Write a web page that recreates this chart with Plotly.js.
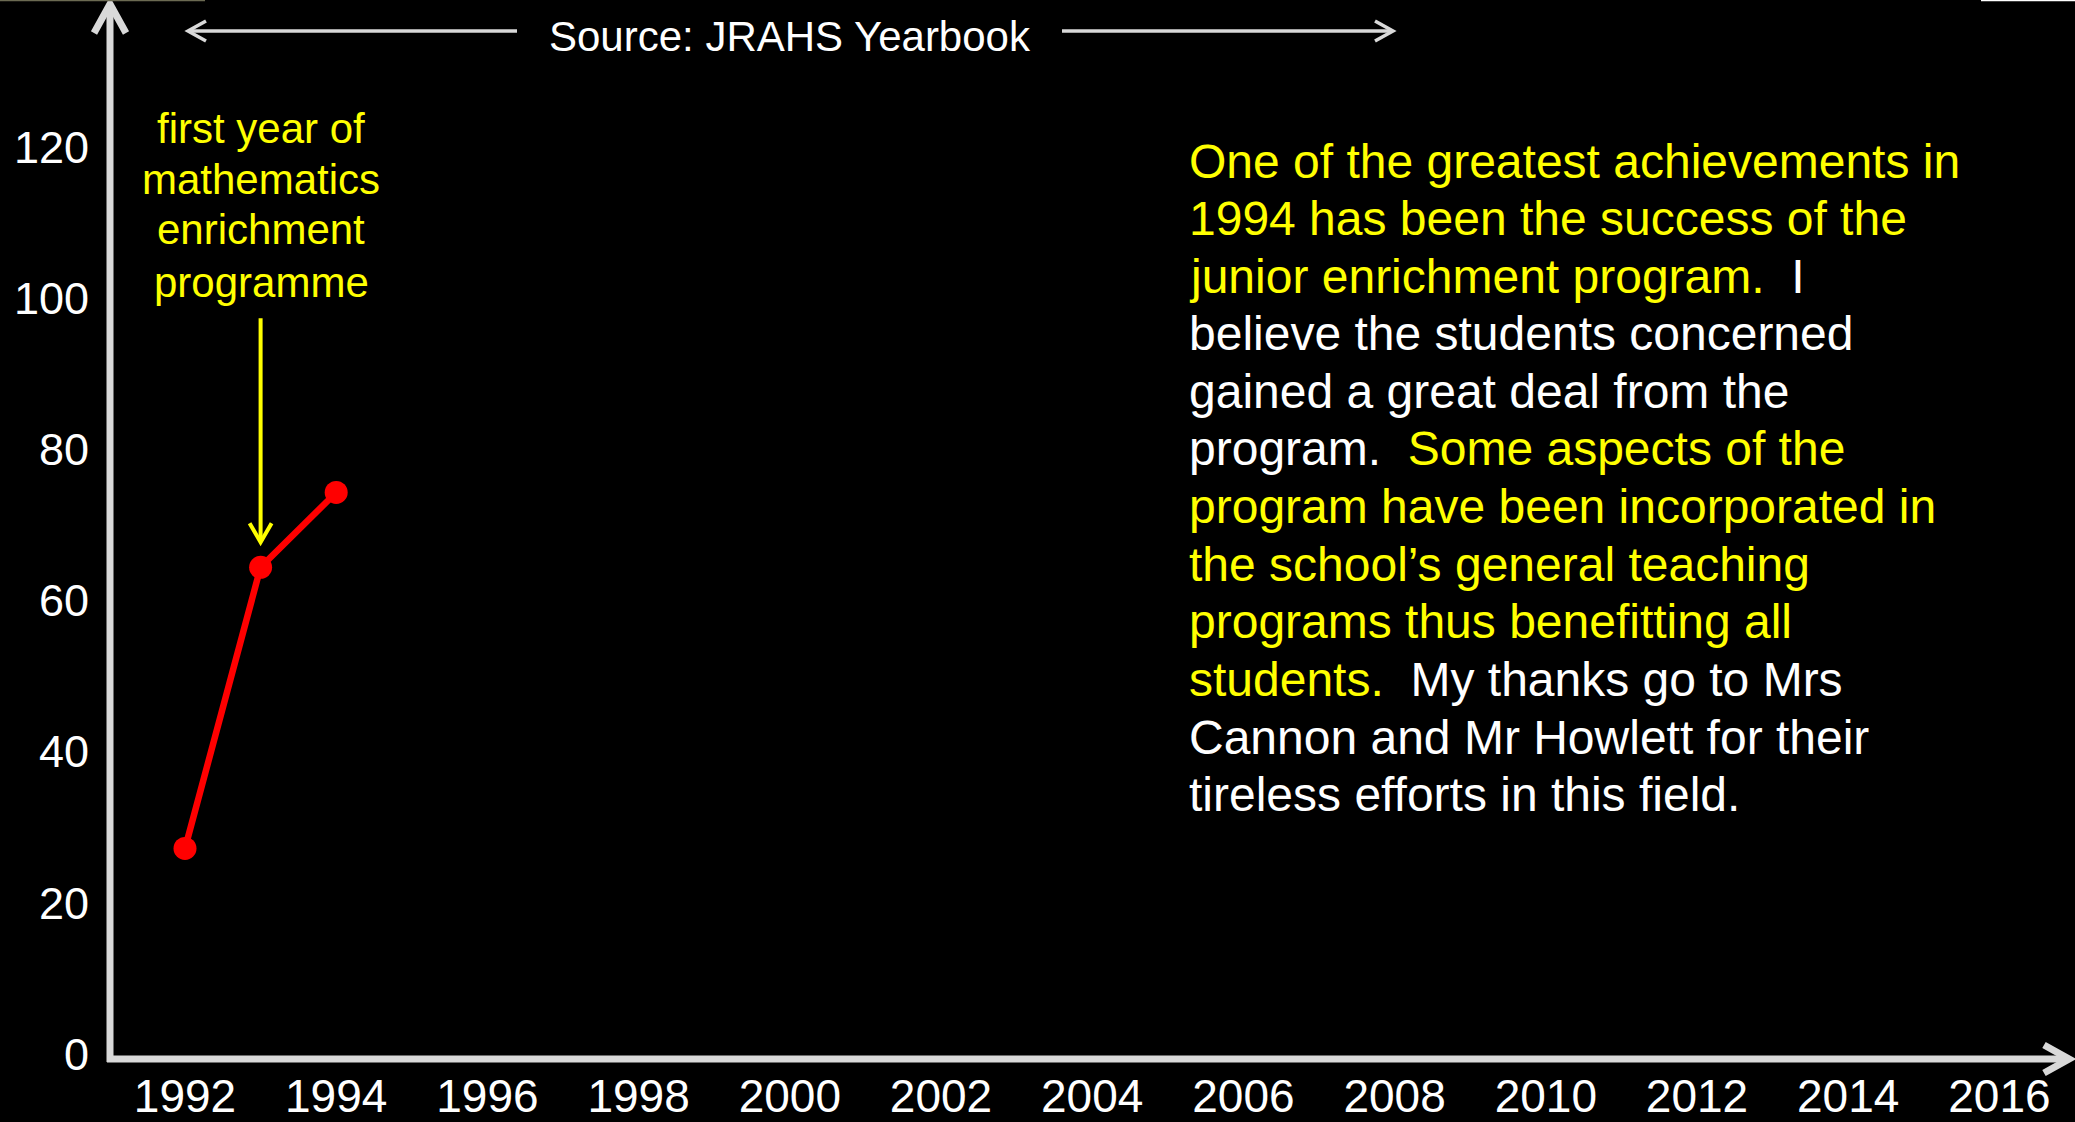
<!DOCTYPE html>
<html><head><meta charset="utf-8">
<script src="https://cdn.plot.ly/plotly-3.0.1.min.js"></script>
<style>html,body{margin:0;padding:0;background:#000;overflow:hidden;} #chart{width:2075px;height:1122px;}</style>
</head><body><div id="chart"></div>
<script>
// ---- data ----
const years = [1992, 1993, 1994];
const values = [27.2, 64.4, 74.3];
const xTickVals = [1992, 1994, 1996, 1998, 2000, 2002, 2004, 2006, 2008, 2010, 2012, 2014, 2016];
const xTickText = ["1992", "1994", "1996", "1998", "2000", "2002", "2004", "2006", "2008", "2010", "2012", "2014", "2016"];
const yTickVals = [0, 20, 40, 60, 80, 100, 120];
const yTickText = ["0", "20", "40", "60", "80", "100", "120"];
const sourceText = "Source: JRAHS Yearbook";
const noteLines = ["first year of", "mathematics", "enrichment", "programme"];
const YEL = "#ffff00", WHT = "#ffffff";
const quoteLines = [
  [[YEL, "One of the greatest achievements in"]],
  [[YEL, "1994 has been the success of the"]],
  [[YEL, "junior enrichment program."], [WHT, "\u00a0\u00a0I"]],
  [[WHT, "believe the students concerned"]],
  [[WHT, "gained a great deal from the"]],
  [[WHT, "program."], [YEL, "\u00a0\u00a0Some aspects of the"]],
  [[YEL, "program have been incorporated in"]],
  [[YEL, "the school\u2019s general teaching"]],
  [[YEL, "programs thus benefitting all"]],
  [[YEL, "students."], [WHT, "\u00a0\u00a0My thanks go to Mrs"]],
  [[WHT, "Cannon and Mr Howlett for their"]],
  [[WHT, "tireless efforts in this field."]]
];

// ---- layout helpers (pixel -> paper) ----
const W = 2075, H = 1122;
const L = 110, R = 2073, T = 2, B = 1059;
const px = x => (x - L) / (R - L);
const py = y => (B - y) / (B - T);
const FONT = "Liberation Sans, Arial, sans-serif";
const AX = "#d9d9d9";

const annotations = [];
annotations.push({xref: 'paper', yref: 'paper', x: px(790), y: py(37), xanchor: 'center', yanchor: 'middle',
  text: sourceText, showarrow: false, font: {family: FONT, size: 42, color: WHT}});
const noteY = [128, 179, 230, 282];
noteLines.forEach((t, i) => annotations.push({xref: 'paper', yref: 'paper', x: px(261), y: py(noteY[i]),
  xanchor: 'center', yanchor: 'middle', text: t, showarrow: false, font: {family: FONT, size: 42, color: YEL}}));
quoteLines.forEach((segs, i) => {
  const txt = segs.map(s => '<span style="color:' + s[0] + '">' + s[1] + '</span>').join('');
  annotations.push({xref: 'paper', yref: 'paper', x: px(1187), y: py(161 + i * 57.6), xanchor: 'left', yanchor: 'middle',
    text: txt, showarrow: false, align: 'left', font: {family: FONT, size: 48, color: WHT}});
});

const P = (pts) => pts.map((p, i) => (i ? 'L' : 'M') + px(p[0]) + ',' + py(p[1])).join(' ');
const shapes = [
  // y axis with arrow
  {type: 'line', xref: 'paper', yref: 'paper', x0: px(110), y0: py(1062), x1: px(110), y1: py(4), line: {color: AX, width: 7}},
  {type: 'path', xref: 'paper', yref: 'paper', path: P([[94, 33], [110, 4], [126, 33]]), line: {color: AX, width: 7}},
  // x axis with arrow
  {type: 'line', xref: 'paper', yref: 'paper', x0: px(107), y0: py(1059), x1: px(2069), y1: py(1059), line: {color: AX, width: 7}},
  {type: 'path', xref: 'paper', yref: 'paper', path: P([[2044, 1045], [2069, 1059], [2044, 1073]]), line: {color: AX, width: 7}},
  // source arrows
  {type: 'line', xref: 'paper', yref: 'paper', x0: px(188), y0: py(31), x1: px(517), y1: py(31), line: {color: AX, width: 3.5}},
  {type: 'path', xref: 'paper', yref: 'paper', path: P([[206, 21], [188, 31], [206, 41]]), line: {color: AX, width: 3.5}},
  {type: 'line', xref: 'paper', yref: 'paper', x0: px(1062), y0: py(31), x1: px(1393), y1: py(31), line: {color: AX, width: 3.5}},
  {type: 'path', xref: 'paper', yref: 'paper', path: P([[1375, 21], [1393, 31], [1375, 41]]), line: {color: AX, width: 3.5}},
  // yellow pointer to 1993 point
  {type: 'path', xref: 'x', yref: 'y', xsizemode: 'pixel', ysizemode: 'pixel', xanchor: years[1], yanchor: values[1],
    path: 'M0,249 L0,27', line: {color: YEL, width: 4}},
  {type: 'path', xref: 'x', yref: 'y', xsizemode: 'pixel', ysizemode: 'pixel', xanchor: years[1], yanchor: values[1],
    path: 'M-11,44 L0,25 L11,44', line: {color: YEL, width: 4}},
  // thin border artifacts at top edge
  {type: 'line', xref: 'paper', yref: 'paper', x0: px(0), y0: py(0.5), x1: px(205), y1: py(0.5), line: {color: '#6b6a52', width: 1.5}},
  {type: 'line', xref: 'paper', yref: 'paper', x0: px(1981), y0: py(0.5), x1: px(2075), y1: py(0.5), line: {color: '#ffffff', width: 1.5}}
];

const trace = {
  x: years, y: values, type: 'scatter', mode: 'lines+markers',
  line: {color: '#ff0000', width: 6.5}, marker: {color: '#ff0000', size: 23}, hoverinfo: 'none'
};

// axis ranges derived from the reference pixel scale (75.6 px/year, 7.558 px/unit)
const xr = [1992 - (185 - L) / 75.6, 1992 + (R - 185) / 75.6];
const yr = [(1054 - B) / 7.558, (1054 - T) / 7.558];

const layout = {
  width: W, height: H,
  paper_bgcolor: '#000', plot_bgcolor: '#000',
  margin: {l: L, r: W - R, t: T, b: H - B, pad: 0},
  showlegend: false,
  font: {family: FONT, color: WHT},
  xaxis: {range: xr, tickvals: xTickVals, ticktext: xTickText, showgrid: false, zeroline: false, showline: false,
    ticks: '', automargin: false, ticklabelstandoff: 6, tickfont: {family: FONT, size: 46, color: WHT}, fixedrange: true},
  yaxis: {range: yr, tickvals: yTickVals, ticktext: yTickText, showgrid: false, zeroline: false, showline: false,
    ticks: '', automargin: false, ticklabelstandoff: 20, tickfont: {family: FONT, size: 45, color: WHT}, fixedrange: true},
  annotations: annotations,
  shapes: shapes
};

Plotly.newPlot('chart', [trace], layout, {displayModeBar: false, staticPlot: true});
</script>
</body></html>
